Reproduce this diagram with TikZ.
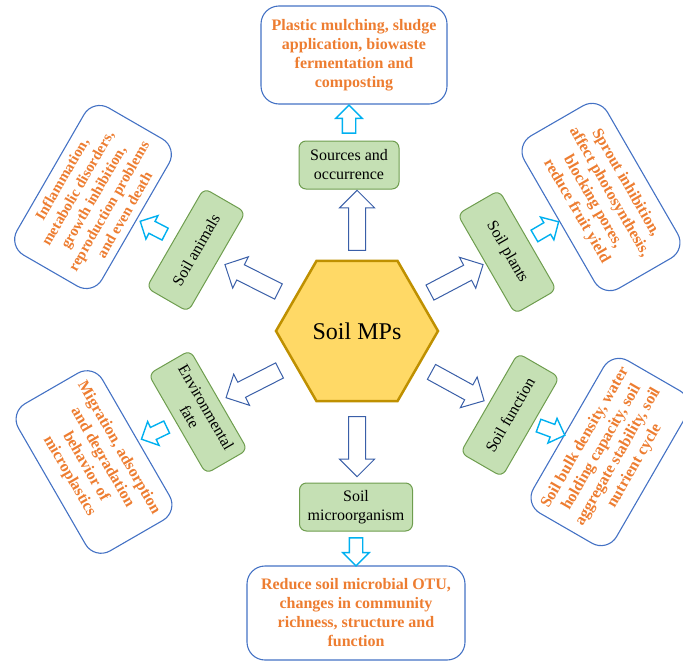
\documentclass[tikz,border=0pt]{standalone}
\usepackage{fontspec}
\setmainfont{Liberation Serif}
\usetikzlibrary{positioning}
\usetikzlibrary{shapes.geometric}
\usetikzlibrary{shapes.arrows}
\definecolor{hexfill}{HTML}{FFD966}
\definecolor{hexline}{HTML}{BF9000}
\definecolor{greenfill}{HTML}{C5E0B4}
\definecolor{greenline}{HTML}{6E9D4E}
\definecolor{blueline}{HTML}{4472C4}
\definecolor{darkblue}{HTML}{3A5FA8}
\definecolor{lightblue}{HTML}{00B0F0}
\definecolor{effecttext}{HTML}{ED7D31}
\tikzset{cause/.style={ % green boxes around the hexagon
			draw=greenline,
			fill=greenfill,
			line width=1pt,
			rounded corners=7pt,
			align=center,
			inner sep=2pt,
			minimum height=48pt,
			font=\fontsize{16}{19}\selectfont},
		effect/.style={ % outer boxes with the findings
			draw=blueline,
			line width=1.1pt,
			rounded corners=18pt,
			align=center,
			inner sep=3pt,
			text=effecttext,
			font=\bfseries\fontsize{16}{19}\selectfont},
		bigarrow/.style={
			single arrow,
			draw=darkblue,
			fill=white,
			line width=1pt,
			inner xsep=0pt,
			inner ysep=8pt,
			minimum height=60pt,
			single arrow head extend=9pt,
			sloped,
			allow upside down},
		smallarrow/.style={
			single arrow,
			draw=lightblue,
			fill=white,
			line width=1.4pt,
			inner xsep=0pt,
			inner ysep=6pt,
			minimum height=28pt,
			single arrow head extend=6.5pt,
			sloped,
			allow upside down}}
\begin{document}
\begin{tikzpicture}[x=1pt, y=-1pt]
			\useasboundingbox (0,0) rectangle (683,664);
			\node[regular polygon, regular polygon sides=6, minimum size=162pt, draw=hexline, fill=hexfill, line width=2.5pt, font=\fontsize{24}{28}\selectfont] (MP) at (357,331) {Soil MPs};
			
			\node[cause, minimum width=100pt] (S) at (349,165) {Sources and\\occurrence};
			\node[cause, minimum width=113pt] (M) at (356,507) {Soil\\microorganism};
			\node[cause, minimum width=115pt, rotate=60] (A) at (196,250) {Soil animals};
			\node[cause, minimum width=115pt, rotate=-60] (P) at (507,252) {Soil plants};
			\node[cause, minimum width=115pt, rotate=-60] (E) at (198,412) {Environmental\\fate};
			\node[cause, minimum width=115pt, rotate=60] (F) at (510,415) {Soil function};
			
			\node[effect, minimum width=186pt, minimum height=98pt] (SE) at (354,55) {Plastic mulching, sludge\\application, biowaste\\fermentation and\\composting};
			\node[effect, minimum width=218pt, minimum height=94pt] (ME) at (356,613) {Reduce soil microbial OTU,\\changes in community\\richness, structure and\\function};
			\node[effect, minimum width=170pt, minimum height=98pt, rotate=60, font=\bfseries\fontsize{15}{18}\selectfont] (AE) at (93,197) {Inflammation,\\metabolic disorders,\\growth inhibition,\\reproduction problems\\and even death};
			\node[effect, minimum width=176pt, minimum height=96pt, rotate=-60] (PE) at (601,197) {Sprout inhibition,\\affect photosynthesis,\\blocking pores,\\reduce fruit yield};
			\node[effect, minimum width=170pt, minimum height=97pt, rotate=-60] (EE) at (94,462) {Migration, adsorption\\and degradation\\behavior of\\microplastics};
			\node[effect, minimum width=176pt, minimum height=96pt, rotate=60] (FE) at (610,452) {Soil bulk density, water\\holding capacity, soil\\aggregate stability, soil\\nutrient cycle};
			
			\path (MP.north) -- node[bigarrow] {} (MP.north |- S.south);
			\path (MP.south) -- node[bigarrow] {} (MP.south |- M.north);
			\path (MP) -- node[bigarrow] {} (A);
			\path (MP) -- node[bigarrow] {} (P);
			\path (MP) -- node[bigarrow] {} (E);
			\path (MP) -- node[bigarrow] {} (F);
			
			\path (S.north) -- node[smallarrow] {} (S.north |- SE.south);
			\path (M.south) -- node[smallarrow] {} (M.south |- ME.north);
			\path (A) -- node[smallarrow] {} (AE);
			\path (P) -- node[smallarrow] {} (PE);
			\path (E) -- node[smallarrow] {} (EE);
			\path (F) -- node[smallarrow] {} (FE);
		\end{tikzpicture}
\end{document}
